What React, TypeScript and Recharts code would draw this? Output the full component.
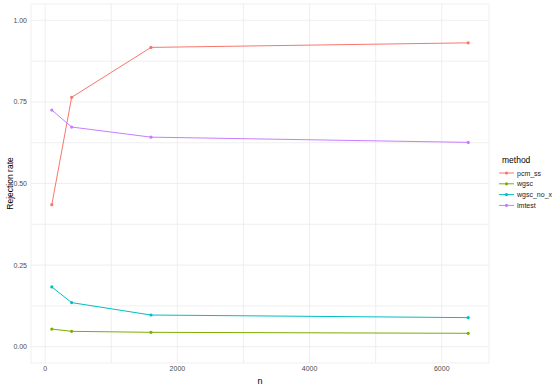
import { LineChart, Line, XAxis, YAxis, CartesianGrid, Label } from "recharts";

const nValues = [100, 400, 1600, 6400];
const pcmSs = [0.435, 0.764, 0.917, 0.931];
const wgsc = [0.054, 0.047, 0.044, 0.041];
const wgscNoX = [0.183, 0.135, 0.097, 0.089];
const lmtest = [0.725, 0.673, 0.642, 0.626];

const xTicks = [0, 1000, 2000, 3000, 4000, 5000, 6000];
const yTicks = [0, 0.125, 0.25, 0.375, 0.5, 0.625, 0.75, 0.875, 1];
const xLabels = [0, 2000, 4000, 6000];
const yLabels = [0, 0.25, 0.5, 0.75, 1];

const series = [
  { key: "pcm_ss", values: pcmSs, color: "#F8766D" },
  { key: "wgsc", values: wgsc, color: "#7CAE00" },
  { key: "wgsc_no_x", values: wgscNoX, color: "#00BFC4" },
  { key: "lmtest", values: lmtest, color: "#C77CFF" },
];

const data = nValues.map((n, i) => {
  const row: Record<string, number> = { n };
  series.forEach((s) => (row[s.key] = s.values[i]));
  return row;
});

const font = "Liberation Sans, Arial, sans-serif";

function MethodLegend() {
  return (
    <svg
      width={60}
      height={70}
      style={{ position: "absolute", left: 498, top: 150, fontFamily: font }}
    >
      <text x={4} y={13} fontSize={8.5} fill="#000">
        method
      </text>
      {series.map((s, i) => {
        const y = 23 + i * 10.8;
        return (
          <g key={s.key}>
            <line x1={1} x2={16} y1={y} y2={y} stroke={s.color} strokeWidth={1} />
            <circle cx={8.5} cy={y} r={1.6} fill={s.color} />
            <text x={19} y={y + 2.5} fontSize={7} fill="#1a1a1a">
              {s.key}
            </text>
          </g>
        );
      })}
    </svg>
  );
}

export default function App() {
  return (
    <div style={{ position: "absolute", left: 0, top: 0, width: 558, height: 388, background: "#fff" }}>
      <LineChart
        width={558}
        height={388}
        data={data}
        margin={{ top: 4, right: 69, bottom: 0, left: 0 }}
        style={{ fontFamily: font }}
      >
        <CartesianGrid stroke="#ebebeb" strokeWidth={0.8} />
        <XAxis
          dataKey="n"
          type="number"
          domain={[-215, 6715]}
          ticks={xTicks}
          interval={0}
          height={25}
          axisLine={false}
          tickLine={false}
          tickSize={0}
          tickMargin={3}
          tick={{ fontSize: 7, fill: "#4d4d4d" }}
          tickFormatter={(v: number) => (xLabels.includes(v) ? String(v) : "")}
          allowDataOverflow
        >
          <Label value="n" position="insideBottom" offset={4} fontSize={9} fill="#000" />
        </XAxis>
        <YAxis
          type="number"
          domain={[-0.05, 1.05]}
          ticks={yTicks}
          interval={0}
          width={31}
          axisLine={false}
          tickLine={false}
          tickSize={0}
          tickMargin={4}
          tick={{ fontSize: 7, fill: "#4d4d4d" }}
          tickFormatter={(v: number) => (yLabels.includes(v) ? v.toFixed(2) : "")}
          allowDataOverflow
        >
          <Label value="Rejection rate" angle={-90} position="center" dx={-6} fontSize={8.5} fill="#000" />
        </YAxis>
        {series.map((s) => (
          <Line
            key={s.key}
            type="linear"
            dataKey={s.key}
            stroke={s.color}
            strokeWidth={1}
            dot={{ r: 1.6, fill: s.color, stroke: s.color, strokeWidth: 0 }}
            activeDot={false}
            isAnimationActive={false}
          />
        ))}
      </LineChart>
      <MethodLegend />
    </div>
  );
}
